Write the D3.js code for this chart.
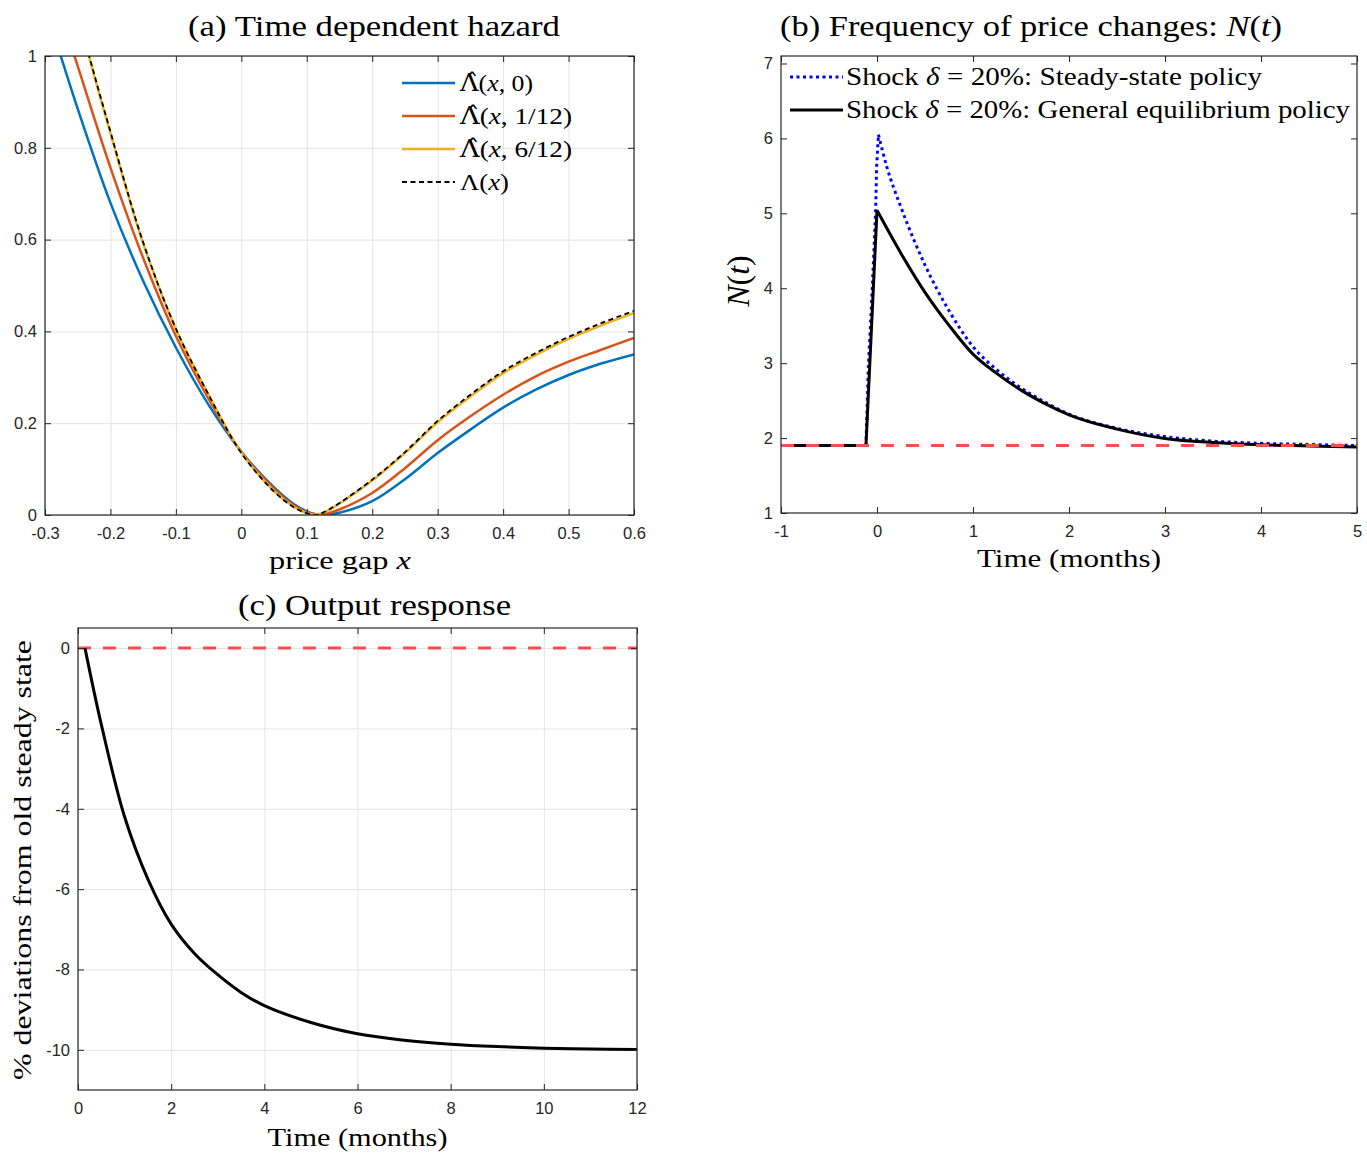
<!DOCTYPE html>
<html>
 <head>
  <meta charset="utf-8" />
  <title>Time dependent hazard, frequency of price changes and output response</title>
  <script src="https://cdnjs.cloudflare.com/ajax/libs/d3/7.9.0/d3.min.js"></script>
  <style>
   body, html {
    margin: 0;
    padding: 0;
    background: #fff;
   }
   .tex {
    font-family: "Liberation Serif", "Times New Roman", serif;
    fill: #000;
   }
  </style>
 </head>
 <body>
  <script>
   // (a) hazard as a function of the price gap
   const gapX = [-0.3, -0.25, -0.2, -0.15, -0.1, -0.05, 0, 0.05, 0.08, 0.1, 0.115, 0.13, 0.15, 0.2, 0.25, 0.3, 0.35, 0.4, 0.45, 0.5, 0.55, 0.6];
   const hazardT0 = [1.11, 0.885, 0.68, 0.51, 0.365, 0.24, 0.138, 0.06, 0.024, 0.008, 0.001, 0.001, 0.005, 0.03, 0.078, 0.135, 0.186, 0.234, 0.273, 0.305, 0.33, 0.35];
   const hazardT1 = [1.2, 0.978, 0.757, 0.56, 0.39, 0.253, 0.137, 0.057, 0.021, 0.006, 0.001, 0.003, 0.012, 0.048, 0.102, 0.163, 0.215, 0.262, 0.302, 0.334, 0.36, 0.386];
   const hazardT6 = [1.45, 1.095, 0.832, 0.592, 0.405, 0.262, 0.136, 0.052, 0.018, 0.004, 0.001, 0.008, 0.025, 0.075, 0.135, 0.202, 0.258, 0.309, 0.349, 0.384, 0.413, 0.44];
   const hazardSS = [1.46, 1.1, 0.835, 0.594, 0.406, 0.262, 0.135, 0.051, 0.017, 0.004, 0, 0.009, 0.026, 0.077, 0.137, 0.205, 0.262, 0.313, 0.353, 0.388, 0.418, 0.445];
   const hazardLabels = ["0", "1/12", "6/12"];

   // (b) frequency of price changes N(t)
   const ssTime = [-1, -0.115, -0.09, -0.048, -0.014, -0.004, 0.015, 0.1, 0.25, 0.5, 0.75, 1, 1.25, 1.5, 1.75, 2, 2.5, 3, 3.5, 4, 4.5, 5];
   const ssFreq = [1.9, 1.9, 2.95, 4.02, 5.04, 5.62, 6.05, 5.63, 5.08, 4.31, 3.7, 3.22, 2.91, 2.67, 2.48, 2.32, 2.13, 2.02, 1.96, 1.93, 1.915, 1.9];
   const geTime = [-1, -0.115, 0, 0.25, 0.5, 0.75, 1, 1.25, 1.5, 1.75, 2, 2.5, 3, 3.5, 4, 4.5, 5];
   const geFreq = [1.9, 1.9, 5.04, 4.465, 3.945, 3.505, 3.12, 2.86, 2.64, 2.46, 2.31, 2.12, 1.995, 1.94, 1.91, 1.895, 1.88];
   const freqSteady = 1.9;

   // (c) output response
   const outTime = [0.15, 0.5, 1, 1.5, 2, 2.5, 3, 3.5, 4, 5, 6, 7, 8, 9, 10, 11, 12];
   const outDev = [0, -1.9, -4.2, -5.75, -6.87, -7.6, -8.13, -8.57, -8.9, -9.32, -9.6, -9.76, -9.86, -9.92, -9.96, -9.98, -9.99];
   const outSteady = 0;

   const colors = ["#0072BD", "#D95319", "#EDB120"];
   const axisColor = "#262626";
   const gridColor = "#e3e3e3";
   const tickLen = 6;
   const smooth = d3.curveCatmullRom.alpha(0.5);

   const svg = d3.select("body").append("svg")
    .attr("width", 1367)
    .attr("height", 1155);
   const defs = svg.append("defs");

   // text with italic math parts: parts = [[text, italic, family], ...]
   function tex(parent, parts, x, y, size, opts = {}) {
    const t = parent.append("text")
     .attr("class", "tex")
     .attr("x", x)
     .attr("y", y)
     .attr("font-size", size)
     .attr("text-anchor", opts.anchor || "start");
    if(opts.length)
     t.attr("textLength", opts.length).attr("lengthAdjust", "spacingAndGlyphs");
    if(opts.rotate)
     t.attr("transform", `rotate(-90,${x},${y})`);
    parts.forEach(p => {
     t.append("tspan")
      .attr("font-style", p[1] ? "italic" : "normal")
      .attr("font-family", p[2] || null)
      .text(p[0]);
    });
    return t;
   }

   function makePanel(cfg) {
    const x = d3.scaleLinear().domain(cfg.xDomain).range([cfg.left, cfg.right]);
    const y = d3.scaleLinear().domain(cfg.yDomain).range([cfg.bottom, cfg.top]);
    const w = cfg.right - cfg.left;
    const h = cfg.bottom - cfg.top;
    const g = svg.append("g");

    defs.append("clipPath").attr("id", "clip-" + cfg.id)
     .append("rect")
     .attr("x", cfg.left).attr("y", cfg.top)
     .attr("width", w).attr("height", h);

    if(cfg.grid) {
     g.append("g")
      .attr("transform", `translate(0,${cfg.bottom})`)
      .call(d3.axisBottom(x).tickValues(cfg.xTicks).tickSize(-h).tickFormat(""))
      .call(s => s.select(".domain").remove())
      .call(s => s.selectAll("line").attr("stroke", gridColor));
     g.append("g")
      .attr("transform", `translate(${cfg.left},0)`)
      .call(d3.axisLeft(y).tickValues(cfg.yTicks).tickSize(-w).tickFormat(""))
      .call(s => s.select(".domain").remove())
      .call(s => s.selectAll("line").attr("stroke", gridColor));
    }

    const plot = g.append("g").attr("clip-path", `url(#clip-${cfg.id})`);
    const axes = g.append("g");

    const styleAxis = s => {
     s.attr("font-size", null).attr("font-family", null);
     s.select(".domain").remove();
     s.selectAll("line").attr("stroke", axisColor);
     s.selectAll("text")
      .style("font-family", "'Liberation Sans', Arial, Helvetica, sans-serif")
      .style("font-size", "16.5px")
      .attr("fill", axisColor);
    };

    axes.append("g")
     .attr("transform", `translate(0,${cfg.bottom})`)
     .call(d3.axisBottom(x).tickValues(cfg.xTicks).tickSizeInner(-tickLen).tickSizeOuter(0).tickPadding(12).tickFormat(d => String(d)))
     .call(styleAxis);
    axes.append("g")
     .attr("transform", `translate(0,${cfg.top})`)
     .call(d3.axisTop(x).tickValues(cfg.xTicks).tickSizeInner(-tickLen).tickSizeOuter(0).tickFormat(""))
     .call(styleAxis);
    axes.append("g")
     .attr("transform", `translate(${cfg.left},0)`)
     .call(d3.axisLeft(y).tickValues(cfg.yTicks).tickSizeInner(-tickLen).tickSizeOuter(0).tickPadding(8).tickFormat(d => String(d)))
     .call(styleAxis);
    axes.append("g")
     .attr("transform", `translate(${cfg.right},0)`)
     .call(d3.axisRight(y).tickValues(cfg.yTicks).tickSizeInner(-tickLen).tickSizeOuter(0).tickFormat(""))
     .call(styleAxis);
    axes.append("rect")
     .attr("x", cfg.left).attr("y", cfg.top)
     .attr("width", w).attr("height", h)
     .attr("fill", "none")
     .attr("stroke", axisColor)
     .attr("stroke-width", 1.2);

    return {x, y, plot, g};
   }

   function drawLine(p, xs, ys, style, curve) {
    const line = d3.line()
     .x(d => p.x(d[0]))
     .y(d => p.y(d[1]))
     .curve(curve || smooth);
    return p.plot.append("path")
     .datum(xs.map((v, i) => [v, ys[i]]))
     .attr("d", line)
     .attr("fill", "none")
     .attr("stroke", style.color)
     .attr("stroke-width", style.width)
     .attr("stroke-dasharray", style.dash || null)
     .attr("stroke-linecap", "butt")
     .attr("stroke-linejoin", "round");
   }

   // a spike: straight rise up to the peak, smooth decay after it
   function drawSpike(p, xs, ys, peak, style) {
    drawLine(p, xs.slice(0, peak + 1), ys.slice(0, peak + 1), style, d3.curveLinear);
    drawLine(p, xs.slice(peak), ys.slice(peak), style, d3.curveMonotoneX);
   }

   // ---------- (a) ----------
   const pa = makePanel({
    id: "a", left: 45, right: 634, top: 56, bottom: 515,
    xDomain: [-0.3, 0.6], yDomain: [0, 1],
    xTicks: d3.range(-3, 7).map(v => v / 10),
    yTicks: [0, 0.2, 0.4, 0.6, 0.8, 1],
    grid: true
   });
   const hazardSeries = [hazardT0, hazardT1, hazardT6];
   hazardSeries.forEach((ys, i) => drawLine(pa, gapX, ys, {color: colors[i], width: 2.5}));
   drawLine(pa, gapX, hazardSS, {color: "#000", width: 1.8, dash: "5,3.5"});

   const legA = svg.append("g");
   const legAStyles = [
    {color: colors[0], width: 2.5},
    {color: colors[1], width: 2.5},
    {color: colors[2], width: 2.5},
    {color: "#000", width: 1.8, dash: "5,3.5"}
   ];
   const legALengths = [73, 112, 112, 49];
   legAStyles.forEach((s, i) => {
    const yy = 83 + i * 33;
    legA.append("line")
     .attr("x1", 402).attr("x2", 455).attr("y1", yy).attr("y2", yy)
     .attr("stroke", s.color).attr("stroke-width", s.width)
     .attr("stroke-dasharray", s.dash || null);
    const parts = i < 3
     ? [["Λ\u0302", false, "'DejaVu Serif', serif"], ["(", false], ["x", true], [", " + hazardLabels[i] + ")", false]]
     : [["Λ(", false], ["x", true], [")", false]];
    tex(legA, parts, 460, yy + 8, 24, {length: legALengths[i]});
   });

   tex(svg, [["(a) Time dependent hazard", false]], 374, 36, 29, {anchor: "middle", length: 372});
   tex(svg, [["price gap ", false], ["x", true]], 340, 569, 26, {anchor: "middle", length: 142});

   // ---------- (b) ----------
   const pb = makePanel({
    id: "b", left: 781, right: 1357, top: 56, bottom: 513,
    xDomain: [-1, 5], yDomain: [1, 7.1],
    xTicks: d3.range(-1, 6),
    yTicks: d3.range(1, 8),
    grid: false
   });
   const ssStyle = {color: "#0000ff", width: 3, dash: "3,3.5"};
   const geStyle = {color: "#000", width: 3};
   const steadyStyle = {color: "#ff4d4d", width: 3, dash: "13,12"};
   drawSpike(pb, ssTime, ssFreq, 6, ssStyle);
   drawSpike(pb, geTime, geFreq, 2, geStyle);
   drawLine(pb, [-1, 5], [freqSteady, freqSteady], steadyStyle, d3.curveLinear);

   const legB = svg.append("g");
   [[ssStyle, "Steady-state policy", 416], [geStyle, "General equilibrium policy", 504]].forEach((row, i) => {
    const yy = 77 + i * 33;
    legB.append("line")
     .attr("x1", 790).attr("x2", 843).attr("y1", yy).attr("y2", yy)
     .attr("stroke", row[0].color).attr("stroke-width", row[0].width)
     .attr("stroke-dasharray", row[0].dash || null);
    tex(legB, [["Shock ", false], ["δ", true], [" = 20%: " + row[1], false]], 846, yy + 8, 25, {length: row[2]});
   });

   tex(svg, [["(b) Frequency of price changes:  ", false], ["N", true], ["(", false], ["t", true], [")", false]], 1031, 36, 29, {anchor: "middle", length: 502});
   tex(svg, [["Time (months)", false]], 1069, 567, 26, {anchor: "middle", length: 184});
   tex(svg, [["N", true], ["(", false], ["t", true], [")", false]], 749, 281, 32, {anchor: "middle", rotate: true});

   // ---------- (c) ----------
   const pc = makePanel({
    id: "c", left: 78, right: 637, top: 628, bottom: 1090,
    xDomain: [0, 12], yDomain: [-11, 0.5],
    xTicks: d3.range(0, 13, 2),
    yTicks: d3.range(-10, 1, 2),
    grid: true
   });
   drawLine(pc, [0, 12], [outSteady, outSteady], steadyStyle, d3.curveLinear);
   drawLine(pc, outTime, outDev, {color: "#000", width: 3});

   tex(svg, [["(c) Output response", false]], 374.5, 615, 29, {anchor: "middle", length: 273});
   tex(svg, [["Time (months)", false]], 357.5, 1146, 26, {anchor: "middle", length: 180});
   tex(svg, [["% deviations from old steady state", false]], 31, 860, 26, {anchor: "middle", rotate: true, length: 440});
  </script>
 </body>
</html>
